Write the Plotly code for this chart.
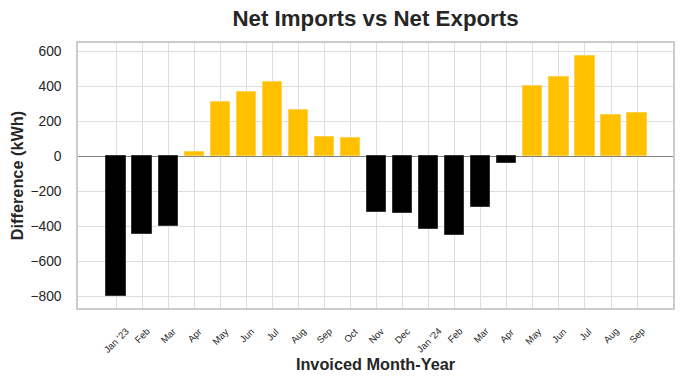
import plotly.graph_objects as go

months = ["Jan '23", "Feb", "Mar", "Apr", "May", "Jun", "Jul", "Aug", "Sep", "Oct", "Nov", "Dec",
          "Jan '24", "Feb", "Mar", "Apr", "May", "Jun", "Jul", "Aug", "Sep"]
difference = [-795, -445, -395, 25, 310, 367, 424, 264, 110, 105, -320, -325,
              -417, -451, -291, -40, 401, 453, 573, 234, 247]
y_ticks = [-800, -600, -400, -200, 0, 200, 400, 600]

pos = list(range(len(months)))
fill = ["#FFC000" if v >= 0 else "#000000" for v in difference]
edge = ["#FFD24D" if v >= 0 else "#333333" for v in difference]
y_text = [str(t).replace("-", "\u2212") for t in y_ticks]

fig = go.Figure(go.Bar(
    x=pos, y=difference, width=0.74,
    marker=dict(color=fill, line=dict(color=edge, width=1)),
))

# month labels, rotated 45 degrees and centred under each tick
for p, m in zip(pos, months):
    fig.add_annotation(x=p, xref="x", y=-0.057, yref="paper", text=m, showarrow=False,
                       textangle=-45, xanchor="center", yanchor="top",
                       font=dict(size=9.5, color="#262626"))

font = "Liberation Sans, Arial, sans-serif"
fig.update_layout(
    width=684, height=384,
    margin=dict(l=78, r=11, t=43, b=76, autoexpand=False),
    paper_bgcolor="white", plot_bgcolor="white",
    font=dict(family=font, color="#262626"),
    title=dict(text="<b>Net Imports vs Net Exports</b>", x=0.549, xanchor="center",
               xref="container", yref="container",
               y=0.953, yanchor="middle", font=dict(size=22.3, color="#262626")),
    showlegend=False,
    bargap=0,
)
fig.update_xaxes(
    range=[-1.46, 21.38], tickvals=pos, showticklabels=False,
    showgrid=True, gridcolor="#dddddd", gridwidth=1,
    showline=True, linecolor="#cccccc", linewidth=1.5, mirror=True, ticks="",
    zeroline=False, automargin=False,
    title=dict(text="<b>Invoiced Month-Year</b>", font=dict(size=16.3), standoff=50),
)
fig.update_yaxes(
    range=[-866, 647], tickvals=y_ticks, ticktext=y_text, ticklabelstandoff=12,
    tickfont=dict(size=13.8), showgrid=True, gridcolor="#dddddd", gridwidth=1,
    showline=True, linecolor="#cccccc", linewidth=1.5, mirror=True, ticks="",
    zeroline=True, zerolinecolor="#808080", zerolinewidth=1, automargin=False,
    title=dict(text="<b>Difference (kWh)</b>", font=dict(size=16.3), standoff=3),
)

# remove the page's default 8px body margin so the figure fills the window
fig.write_html("out.html", config={"displayModeBar": False},
               post_script="document.body.style.margin='0px';")
